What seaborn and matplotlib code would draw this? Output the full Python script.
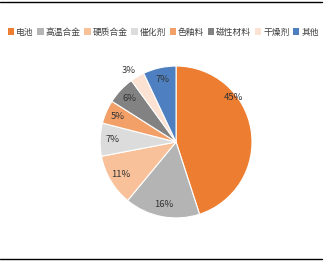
import matplotlib
matplotlib.use("Agg")
import matplotlib.pyplot as plt
import seaborn as sns
import numpy as np
from matplotlib.lines import Line2D
from matplotlib.patches import Patch

sns.set_theme(style="white")
plt.rcParams['font.family'] = ['Noto Sans CJK SC', 'DejaVu Sans']

categories = ["电池", "高温合金", "硬质合金", "催化剂", "色釉料", "磁性材料", "干燥剂", "其他"]
values = [45, 16, 11, 7, 5, 6, 3, 7]
colors = ["#ED7D31", "#B4B4B4", "#F8C19A", "#DCDCDC", "#F2A068", "#828282", "#FBE2D2", "#4E7FC0"]

fig = plt.figure(figsize=(3.25, 2.61), dpi=100)
ax = fig.add_axes([0.3077, 0.165, 0.468, 0.582])

wedges, texts, autotexts = ax.pie(values, colors=colors, startangle=90, counterclock=False,
                                  autopct=lambda p: f"{p:.0f}%", pctdistance=0.84,
                                  wedgeprops=dict(edgecolor="white", linewidth=0.8),
                                  textprops=dict(fontsize=6.8, color="#333333"))
ax.set_xlim(-1.0, 1.0)
ax.set_ylim(-1.0, 1.0)
ax.set_aspect("equal")
ax.axis("off")

# adjust a couple of label placements (Excel best-fit)
def place(t, r, ang):
    a = np.deg2rad(ang)
    t.set_position((r * np.cos(a), r * np.sin(a)))
place(autotexts[0], 0.96, 38)
place(autotexts[6], 1.13, 123.7)

handles = [Patch(facecolor=c, edgecolor="none") for c in colors]
fig.legend(handles, categories, loc="center", bbox_to_anchor=(0.503, 0.877), ncol=8,
           frameon=False, fontsize=6.3, handlelength=0.7, handleheight=0.7,
           handletextpad=0.25, columnspacing=0.42, labelcolor="#404040")

fig.add_artist(Line2D([0.0, 0.99], [0.993, 0.993], color="black", linewidth=1.0))
fig.add_artist(Line2D([0.0, 0.99], [0.008, 0.008], color="black", linewidth=1.0))

fig.savefig("out.png", dpi=100)
